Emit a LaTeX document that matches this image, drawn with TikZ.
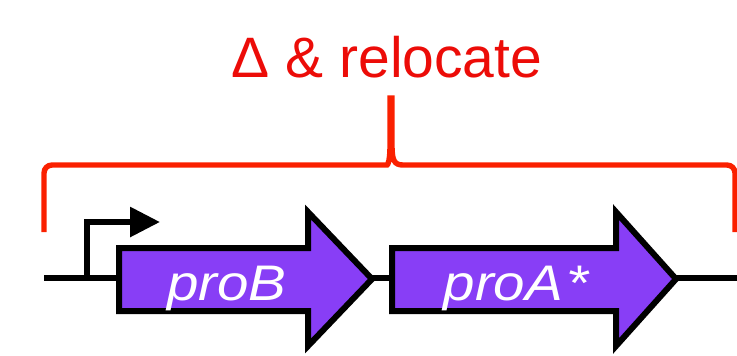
\documentclass[tikz,border=0pt]{standalone}
\usepackage{fontspec}
\setmainfont{Liberation Sans}
\usetikzlibrary{arrows.meta}
\definecolor{genepurple}{RGB}{136,62,246}
\definecolor{bracered}{RGB}{250,32,0}
\definecolor{titlered}{RGB}{236,12,8}
\begin{document}
\begin{tikzpicture}[x=0.5pt,y=-0.5pt,
    backbone/.style={line width=2.6pt, black},
    gene/.style={line width=3pt, draw=black, fill=genepurple, line join=miter},
    genelabel/.style={text=white, font=\fontsize{25}{25}\selectfont\itshape, xscale=1.13, anchor=base, inner sep=0pt},
    bracket/.style={line width=2.7pt, draw=bracered},
    promoter/.style={line width=3pt, -{Triangle[length=15pt,width=14.5pt]}}]
    \useasboundingbox (0,0) rectangle (737,355);
    % backbone
    \coordinate (bbL) at (44,278);
    \coordinate (bbR) at (737,278);
    \draw[backbone] (bbL) -- (bbR);
    % promoter
    \coordinate (pS) at (87,278);
    \coordinate (pE) at (160,222);
    \draw[promoter] (pS) |- (pE);
    % genes
    \draw[gene] (119,248) -- (308,248) -- (308,212) -- (372,279) -- (308,346) -- (308,311) -- (119,311) -- cycle;
    \node[genelabel] (proB) at (227,300) {proB};
    \draw[gene] (392,248) -- (616,248) -- (616,212) -- (676,279) -- (616,346) -- (616,311) -- (392,311) -- cycle;
    \node[genelabel] (proA) at (516,300) {proA\kern1.5pt*};
    % bracket
    \coordinate (brL) at (44,232);
    \coordinate (tip) at (391,98);
    \coordinate (brR) at (735,232);
    \draw[bracket] (brL) [rounded corners=4pt] -- (44,165) -- (379,165) [sharp corners]
        .. controls (388,165) and (390,160) .. (390,145) -- (390,98) -- (392,98) -- (392,145)
        .. controls (392,160) and (394,165) .. (403,165) [rounded corners=4pt] -- (735,165) -- (brR);
    \node[text=titlered, font=\fontsize{28.5}{28.5}\selectfont, anchor=base, inner sep=0pt] (title) at (387,77) {Δ \& relocate};
\end{tikzpicture}
\end{document}
